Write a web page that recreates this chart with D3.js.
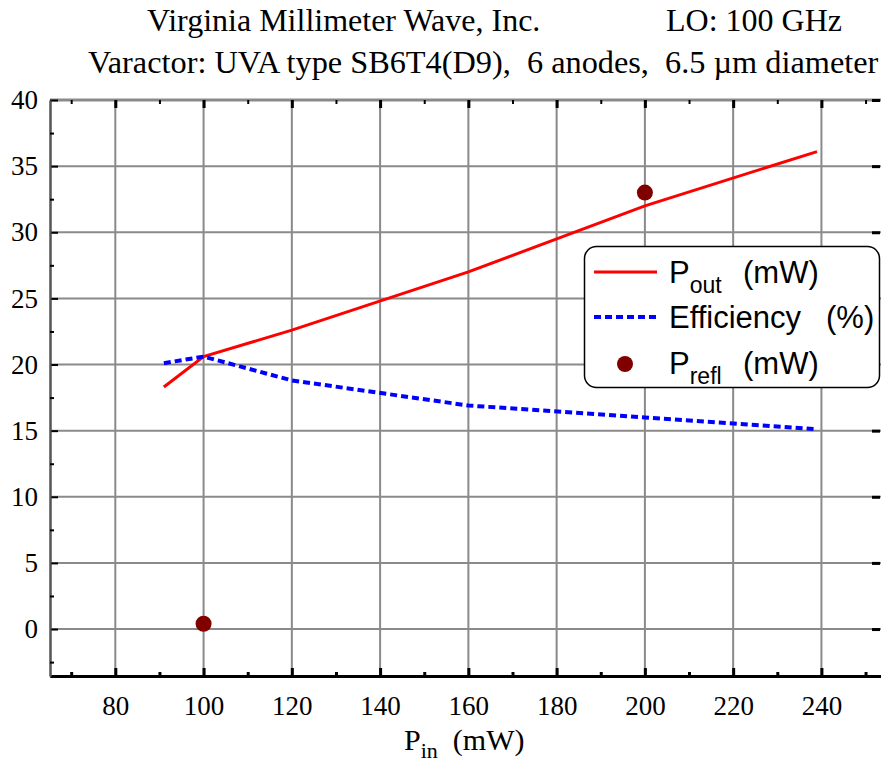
<!DOCTYPE html>
<html>
<head>
<meta charset="utf-8">
<script src="https://cdn.jsdelivr.net/npm/d3@7"></script>
<style>
  body { margin: 0; background: #fff; }
  svg { display: block; }
  text { white-space: pre; }
</style>
</head>
<body>
<div id="chart"></div>
<script>
// data
var pinValues = [91, 100, 120, 160, 200, 239];
var poutValues = [18.3, 20.6, 22.6, 27.0, 32.0, 36.1];
var effValues = [20.1, 20.6, 18.8, 16.9, 16.0, 15.1];
var reflPin = [100, 200];
var reflValues = [0.4, 33.0];

var xMajor = [80, 100, 120, 140, 160, 180, 200, 220, 240];
var xMinor = [70, 90, 110, 130, 150, 170, 190, 210, 230, 250];
var yMajor = [0, 5, 10, 15, 20, 25, 30, 35, 40];
var yMinor = [-2.5, 2.5, 7.5, 12.5, 17.5, 22.5, 27.5, 32.5, 37.5];

var svgWidth = 881;
var svgHeight = 763;

var margin = { top: 100, bottom: 87, left: 50, right: 0 };
var width = svgWidth - margin.left - margin.right;
var height = svgHeight - margin.top - margin.bottom;

var svg = d3
  .select("#chart")
  .append("svg")
  .attr("width", svgWidth)
  .attr("height", svgHeight);

var serif = "'Liberation Serif', 'Times New Roman', Times, serif";
var sans = "'Liberation Sans', Arial, Helvetica, sans-serif";

// titles
svg.append("text")
  .attr("x", 147).attr("y", 31)
  .style("font-family", serif).style("font-size", "32px")
  .text("Virginia Millimeter Wave, Inc.");
svg.append("text")
  .attr("x", 666).attr("y", 31)
  .style("font-family", serif).style("font-size", "32px")
  .text("LO: 100 GHz");
svg.append("text")
  .attr("x", 88).attr("y", 73)
  .style("font-family", serif).style("font-size", "32.3px")
  .text("Varactor: UVA type SB6T4(D9),  6 anodes,  6.5 \u00b5m diameter");

var chartGroup = svg
  .append("g")
  .attr("transform", `translate(${margin.left}, ${margin.top})`);

var x = d3.scaleLinear().domain([65.2, 253.5]).range([0, width]);
var y = d3.scaleLinear().domain([-3.55, 40]).range([height, 0]);

// grid
chartGroup.append("g")
  .selectAll("line")
  .data(xMajor)
  .enter()
  .append("line")
  .attr("x1", (d) => x(d)).attr("x2", (d) => x(d))
  .attr("y1", 0).attr("y2", height)
  .attr("stroke", "#8a8a8a").attr("stroke-width", 2);

chartGroup.append("g")
  .selectAll("line")
  .data(yMajor)
  .enter()
  .append("line")
  .attr("x1", 0).attr("x2", width)
  .attr("y1", (d) => y(d)).attr("y2", (d) => y(d))
  .attr("stroke", "#8a8a8a").attr("stroke-width", (d) => (d === 40 ? 3 : 2));

// axes
function styleAxis(g, color, w) {
  g.attr("font-family", serif).attr("font-size", 27);
  g.selectAll(".tick line").attr("stroke", "#000").attr("stroke-width", w);
  g.select(".domain").attr("stroke", color).attr("stroke-width", w);
  g.selectAll("text")
    .attr("fill", "#000")
    .style("font-family", serif)
    .style("font-size", "27px");
}

chartGroup.append("g")
  .attr("transform", `translate(0, ${height})`)
  .call(d3.axisBottom(x).tickValues(xMajor).tickSize(-8).tickPadding(20).tickSizeOuter(0))
  .call((g) => styleAxis(g, "#000", 3));
chartGroup.append("g")
  .attr("transform", `translate(0, ${height})`)
  .call(d3.axisBottom(x).tickValues(xMinor).tickSize(-4).tickFormat("").tickSizeOuter(0))
  .call((g) => styleAxis(g, "#000", 3));

chartGroup.append("g")
  .call(d3.axisLeft(y).tickValues(yMajor).tickSize(-8).tickPadding(12).tickSizeOuter(0))
  .call((g) => styleAxis(g, "#555", 2));
chartGroup.append("g")
  .call(d3.axisLeft(y).tickValues(yMinor).tickSize(-4).tickFormat("").tickSizeOuter(0))
  .call((g) => styleAxis(g, "#555", 2));

// top and right tick marks
chartGroup.append("g")
  .call(d3.axisTop(x).tickValues(xMajor).tickSize(-8).tickFormat("").tickSizeOuter(0))
  .call((g) => { styleAxis(g, "none", 3); g.select(".domain").remove(); });
chartGroup.append("g")
  .call(d3.axisTop(x).tickValues(xMinor).tickSize(-4).tickFormat("").tickSizeOuter(0))
  .call((g) => { styleAxis(g, "none", 2); g.select(".domain").remove(); });
chartGroup.append("g")
  .attr("transform", `translate(${width - 1}, 0)`)
  .call(d3.axisRight(y).tickValues(yMajor).tickSize(-8).tickFormat("").tickSizeOuter(0))
  .call((g) => { styleAxis(g, "none", 3); g.select(".domain").remove(); });

// lines
var line = d3.line()
  .x((d) => x(d[0]))
  .y((d) => y(d[1]));

chartGroup.append("path")
  .datum(d3.zip(pinValues, poutValues))
  .attr("d", line)
  .attr("fill", "none")
  .attr("stroke", "#ff0000")
  .attr("stroke-width", 3);

chartGroup.append("path")
  .datum(d3.zip(pinValues, effValues))
  .attr("d", line)
  .attr("fill", "none")
  .attr("stroke", "#0000ff")
  .attr("stroke-width", 4)
  .attr("stroke-dasharray", "7,4");

chartGroup.selectAll("circle.refl")
  .data(d3.zip(reflPin, reflValues))
  .enter()
  .append("circle")
  .attr("class", "refl")
  .attr("cx", (d) => x(d[0]))
  .attr("cy", (d) => y(d[1]))
  .attr("r", 8)
  .attr("fill", "#800000");

// x label
var xl = svg.append("text")
  .attr("x", 404).attr("y", 750)
  .style("font-family", serif).style("font-size", "30px");
xl.append("tspan").text("P");
xl.append("tspan").attr("dy", 8).style("font-size", "22px").text("in");
xl.append("tspan").attr("dy", -8).text("  (mW)");

// legend
var legend = svg.append("g");
legend.append("rect")
  .attr("x", 584.5).attr("y", 246.5)
  .attr("width", 295).attr("height", 141)
  .attr("rx", 12)
  .attr("fill", "#fff")
  .attr("stroke", "#000")
  .attr("stroke-width", 1.5);

legend.append("line")
  .attr("x1", 594).attr("x2", 657).attr("y1", 272).attr("y2", 272)
  .attr("stroke", "#ff0000").attr("stroke-width", 3);
legend.append("line")
  .attr("x1", 594).attr("x2", 657).attr("y1", 317).attr("y2", 317)
  .attr("stroke", "#0000ff").attr("stroke-width", 4)
  .attr("stroke-dasharray", "7,4");
legend.append("circle")
  .attr("cx", 625).attr("cy", 364).attr("r", 8)
  .attr("fill", "#800000");

function legendText(yb, main, sub, rest, restX) {
  var t = legend.append("text")
    .attr("x", 669).attr("y", yb)
    .style("font-family", sans).style("font-size", "31px");
  t.append("tspan").text(main);
  if (sub) t.append("tspan").attr("dy", 10).style("font-size", "23px").text(sub);
  legend.append("text")
    .attr("x", restX).attr("y", yb)
    .style("font-family", sans).style("font-size", "31px")
    .text(rest);
}
legendText(283, "P", "out", "(mW)", 743);
legendText(328, "Efficiency", null, "(%)", 826);
legendText(374, "P", "refl", "(mW)", 743);
</script>
</body>
</html>
